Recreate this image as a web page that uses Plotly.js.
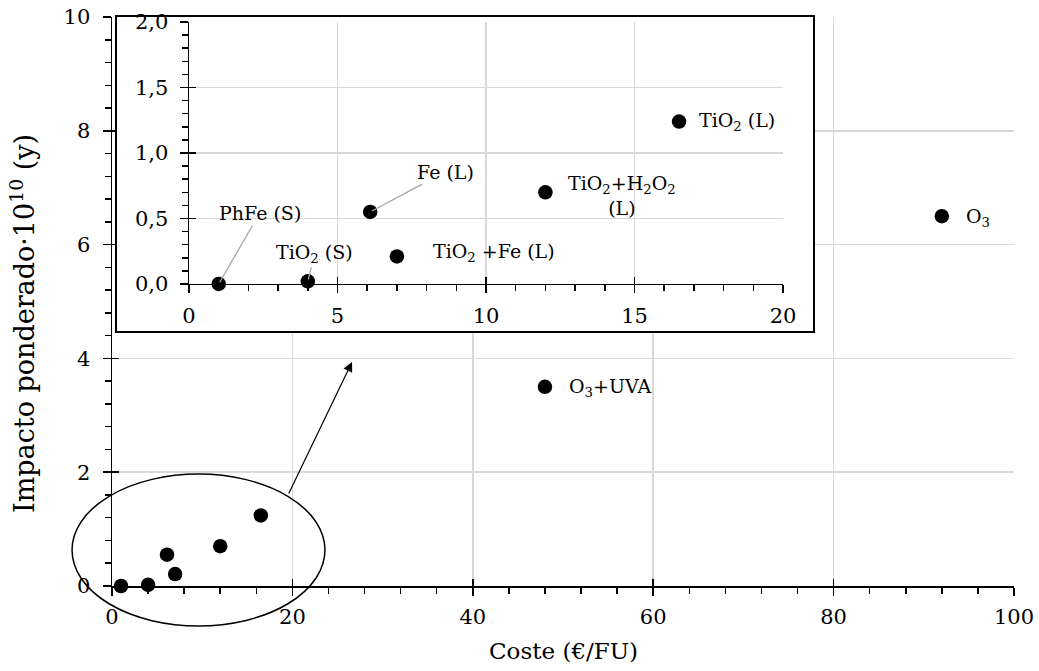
<!DOCTYPE html>
<html>
<head>
<meta charset="utf-8">
<script src="https://cdn.plot.ly/plotly-3.0.1.min.js"></script>
<style>html,body{margin:0;padding:0;background:#fff;}#chart{width:1039px;height:671px;}</style>
</head>
<body>
<div id="chart"></div>
<script>
// ---- data ----
const tratamientos = ['PhFe (S)', 'TiO<sub>2</sub> (S)', 'Fe (L)', 'TiO<sub>2</sub> +Fe (L)',
  'TiO<sub>2</sub>+H<sub>2</sub>O<sub>2</sub><br>(L)', 'TiO<sub>2</sub> (L)', 'O<sub>3</sub>+UVA', 'O<sub>3</sub>'];
const coste = [1.0, 4.0, 6.1, 7.0, 12.0, 16.5, 48.0, 92.0];      // €/FU
const impacto = [0.00, 0.02, 0.55, 0.21, 0.70, 1.24, 3.50, 6.50]; // ·10^10 (y)
const xTicksMain = [0, 20, 40, 60, 80, 100];
const yTicksMain = [0, 2, 4, 6, 8, 10];
const xTicksInset = [0, 5, 10, 15, 20];
const yTicksInset = [0, 0.5, 1.0, 1.5, 2.0];

// ---- label placement (style, not data) ----
const labelStyle = [
  {arrow: true, ax: 41, ay: -71},
  {arrow: true, ax: 7, ay: -28},
  {arrow: true, ax: 75, ay: -40},
  {arrow: false, xanchor: 'left', xshift: 34, yshift: 4},
  {arrow: false, xanchor: 'center', xshift: 77, yshift: -3},
  {arrow: false, xanchor: 'left', xshift: 18, yshift: 0},
  {arrow: false, xanchor: 'left', xshift: 22, yshift: -1},
  {arrow: false, xanchor: 'left', xshift: 22, yshift: -1}
];

const FONT = 'DejaVu Serif';
const tickFont = {family: FONT, size: 21, color: '#000'};
const lblFont = {family: FONT, size: 19, color: '#000'};
const GRID = '#d9d9d9';

const insetIdx = coste.map((c, i) => i).filter(i => coste[i] <= 20);
const mainIdx = coste.map((c, i) => i);

const marker = {size: 14.5, color: '#000'};
const traces = [
  {x: mainIdx.map(i => coste[i]), y: mainIdx.map(i => impacto[i]), type: 'scatter', mode: 'markers',
   marker: marker, xaxis: 'x', yaxis: 'y', cliponaxis: false, hoverinfo: 'skip', showlegend: false},
  {x: [], y: [], type: 'scatter', mode: 'markers', xaxis: 'x4', yaxis: 'y4', showlegend: false, hoverinfo: 'skip'},
  {x: [], y: [], type: 'scatter', mode: 'markers', xaxis: 'x2', yaxis: 'y2', showlegend: false, hoverinfo: 'skip'},
  {x: insetIdx.map(i => coste[i]), y: insetIdx.map(i => impacto[i]), type: 'scatter', mode: 'markers',
   marker: marker, xaxis: 'x3', yaxis: 'y3', cliponaxis: false, hoverinfo: 'skip', showlegend: false},
  {x: [], y: [], type: 'scatter', mode: 'markers', xaxis: 'x5', yaxis: 'y5', showlegend: false, hoverinfo: 'skip'}
];

const inDomX = [0.0854, 0.7439];
const inDomY = [0.5308, 0.9912];
const boxDomX = [0.0055, 0.7772];
const boxDomY = [0.4482, 1.0158];

function mainAxis(range, ticks, minorDtick, anchor, extra) {
  return Object.assign({
    range: range, tickmode: 'array', tickvals: ticks, ticktext: ticks.map(String),
    anchor: anchor, showgrid: true, gridcolor: GRID, gridwidth: 1.5, zeroline: false,
    showline: true, linecolor: '#000', linewidth: 1.5,
    ticks: 'outside', ticklen: 8, tickwidth: 1.5, tickcolor: '#000',
    minor: {dtick: minorDtick, tick0: 0, ticks: 'outside', ticklen: 6, tickwidth: 1.5, tickcolor: '#000', showgrid: false},
    tickfont: tickFont, fixedrange: true
  }, extra || {});
}
function crossAxis(range, ticks, overlay, anchor, domain) {
  return {range: range, tickmode: 'array', tickvals: ticks, overlaying: overlay, anchor: anchor, domain: domain,
    showgrid: false, zeroline: false, showline: false, showticklabels: false,
    ticks: 'inside', ticklen: 7, tickwidth: 1.5, tickcolor: '#000', fixedrange: true};
}

const fmt1 = v => v.toFixed(1).replace('.', ',');

const annotations = [];
mainIdx.forEach(i => {
  const st = labelStyle[i];
  const inInset = coste[i] <= 20;
  const a = {text: tratamientos[i], x: coste[i], y: impacto[i],
    xref: inInset ? 'x3' : 'x', yref: inInset ? 'y3' : 'y', font: lblFont, align: 'center'};
  if (st.arrow) {
    Object.assign(a, {showarrow: true, ax: st.ax, ay: st.ay, arrowhead: 0, arrowwidth: 1.3,
      arrowcolor: '#a6a6a6', standoff: 2});
  } else {
    Object.assign(a, {showarrow: false, xanchor: st.xanchor, yanchor: 'middle', xshift: st.xshift, yshift: st.yshift});
  }
  annotations.push(a);
});
// zoom arrow
annotations.push({xref: 'paper', yref: 'paper', x: 0.2661, y: 0.3937, ax: -64, ay: 133, text: '',
  showarrow: true, arrowhead: 2, arrowsize: 1.6, arrowwidth: 1.2, arrowcolor: '#000', standoff: 0});
// axis titles
annotations.push({xref: 'paper', yref: 'paper', x: 0.5, y: -0.1142, xanchor: 'center', yanchor: 'middle',
  text: 'Coste (€/FU)', showarrow: false, font: {family: FONT, size: 23, color: '#000'}});
annotations.push({xref: 'paper', yref: 'paper', x: -0.0998, y: 0.4622, xanchor: 'center', yanchor: 'middle',
  textangle: -90, text: 'Impacto ponderado·10<sup>10</sup> (y)', showarrow: false,
  font: {family: FONT, size: 27, color: '#000'}});

const layout = {
  width: 1039, height: 671,
  margin: {l: 112, r: 25, t: 17, b: 85},
  paper_bgcolor: '#fff', plot_bgcolor: '#fff',
  separators: ',.',
  showlegend: false,
  font: {family: FONT, color: '#000'},
  xaxis: mainAxis([0, 100], xTicksMain, 4, 'y', {domain: [0, 1], ticklabelstandoff: 3}),
  yaxis: mainAxis([0, 10], yTicksMain, 0.4, 'x', {domain: [0, 1], ticklabelstandoff: 8}),
  xaxis4: crossAxis([0, 100], xTicksMain, 'x', 'y4', [0, 1]),
  yaxis4: crossAxis([0, 10], yTicksMain, 'y', 'x4', [0, 1]),
  xaxis2: {domain: boxDomX, anchor: 'y2', range: [0, 1], showgrid: false, zeroline: false, showticklabels: false,
    ticks: '', showline: true, mirror: true, linecolor: '#000', linewidth: 2, fixedrange: true},
  yaxis2: {domain: boxDomY, anchor: 'x2', range: [0, 1], showgrid: false, zeroline: false, showticklabels: false,
    ticks: '', showline: true, mirror: true, linecolor: '#000', linewidth: 2, fixedrange: true},
  xaxis3: mainAxis([0, 20], xTicksInset, 1, 'y3', {domain: inDomX, ticklabelstandoff: 4}),
  yaxis3: mainAxis([0, 2], yTicksInset, 0.1, 'x3', {domain: inDomY, ticklabelstandoff: 7,
    ticktext: yTicksInset.map(fmt1)}),
  xaxis5: crossAxis([0, 20], xTicksInset, 'x3', 'y5', inDomX),
  yaxis5: crossAxis([0, 2], yTicksInset, 'y3', 'x5', inDomY),
  shapes: [
    {type: 'circle', xref: 'paper', yref: 'paper', x0: -0.0443, x1: 0.2361, y0: -0.0703, y1: 0.1968,
     line: {color: '#000', width: 1.5}, fillcolor: 'rgba(0,0,0,0)', layer: 'above'}
  ],
  annotations: annotations
};

Plotly.newPlot('chart', traces, layout, {staticPlot: true, displayModeBar: false});
</script>
</body>
</html>
